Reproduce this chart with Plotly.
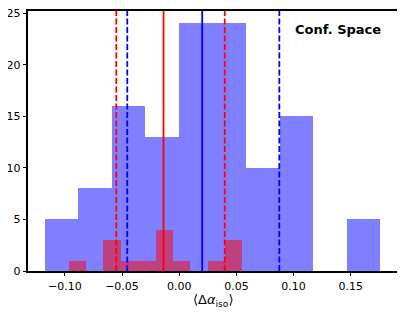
import plotly.graph_objects as go

# Blue histogram (10 bins)
blue_bin_start = -0.1175
blue_bin_width = 0.02932
blue_counts = [5, 8, 16, 13, 24, 24, 10, 15, 0, 5]

# Red histogram (10 bins)
red_bin_start = -0.0966
red_bin_width = 0.01518
red_counts = [1, 0, 3, 1, 1, 4, 1, 0, 1, 3]

# Vertical reference lines
blue_mean = 0.0201
blue_band = [-0.0454, 0.0875]
red_mean = -0.0137
red_band = [-0.0550, 0.0398]

x_ticks = [-0.10, -0.05, 0.00, 0.05, 0.10, 0.15]
y_ticks = [0, 5, 10, 15, 20, 25]

label_text = "Conf. Space"
x_title = "⟨Δ<i>α</i><sub>iso</sub>⟩"

def centers(start, width, n):
    return [start + width * (i + 0.5) for i in range(n)]

fig = go.Figure()
fig.add_trace(go.Bar(
    x=centers(blue_bin_start, blue_bin_width, len(blue_counts)),
    y=blue_counts, width=blue_bin_width,
    marker=dict(color="rgba(0,0,255,0.5)", line=dict(width=0)),
    showlegend=False))
fig.add_trace(go.Bar(
    x=centers(red_bin_start, red_bin_width, len(red_counts)),
    y=red_counts, width=red_bin_width,
    marker=dict(color="rgba(255,0,0,0.5)", line=dict(width=0)),
    showlegend=False))

shapes = []
def vline(x, color, dash):
    shapes.append(dict(type="line", xref="x", yref="paper", x0=x, x1=x, y0=0, y1=1,
                       line=dict(color=color, width=1.8, dash=dash), layer="above"))

vline(blue_mean, "blue", "solid")
for v in blue_band:
    vline(v, "blue", "6px,2.5px")
vline(red_mean, "red", "solid")
for v in red_band:
    vline(v, "red", "6px,2.5px")

xmin = blue_bin_start
xmax = blue_bin_start + blue_bin_width * len(blue_counts)
pad = (xmax - xmin) * 0.05

# page body adds an 8px offset; figure sized to compensate
fig.update_layout(
    width=397, height=305,
    margin=dict(l=20, r=8, t=3, b=42, autoexpand=False),
    paper_bgcolor="white", plot_bgcolor="white",
    barmode="overlay", bargap=0,
    shapes=shapes,
    font=dict(family="DejaVu Sans", size=11, color="black"),
    annotations=[
        dict(text="<b>" + label_text + "</b>", xref="paper", yref="paper",
             x=0.962, y=0.93, xanchor="right", yanchor="middle",
             showarrow=False, font=dict(size=13, color="black")),
        dict(text=x_title, xref="paper", yref="paper",
             x=0.5, y=0, xanchor="center", yanchor="middle", yshift=-29,
             showarrow=False, font=dict(size=13, color="black")),
    ],
)
fig.update_xaxes(
    range=[xmin - pad, xmax + pad],
    tickvals=x_ticks, tickformat=".2f",
    ticks="outside", ticklen=3.5, tickwidth=0.8, tickcolor="black",
    showline=True, linecolor="black", linewidth=1.6, mirror=True,
    showgrid=False, zeroline=False, automargin=False,
    tickfont=dict(size=11),
)
fig.update_yaxes(
    range=[0, max(blue_counts) * 1.05],
    tickvals=y_ticks,
    ticks="outside", ticklen=3.5, tickwidth=0.8, tickcolor="black",
    showline=True, linecolor="black", linewidth=1.6, mirror=True,
    showgrid=False, zeroline=False, automargin=False,
    ticklabeloverflow="allow",
    tickfont=dict(size=11),
)

fig.write_html("out.html")
